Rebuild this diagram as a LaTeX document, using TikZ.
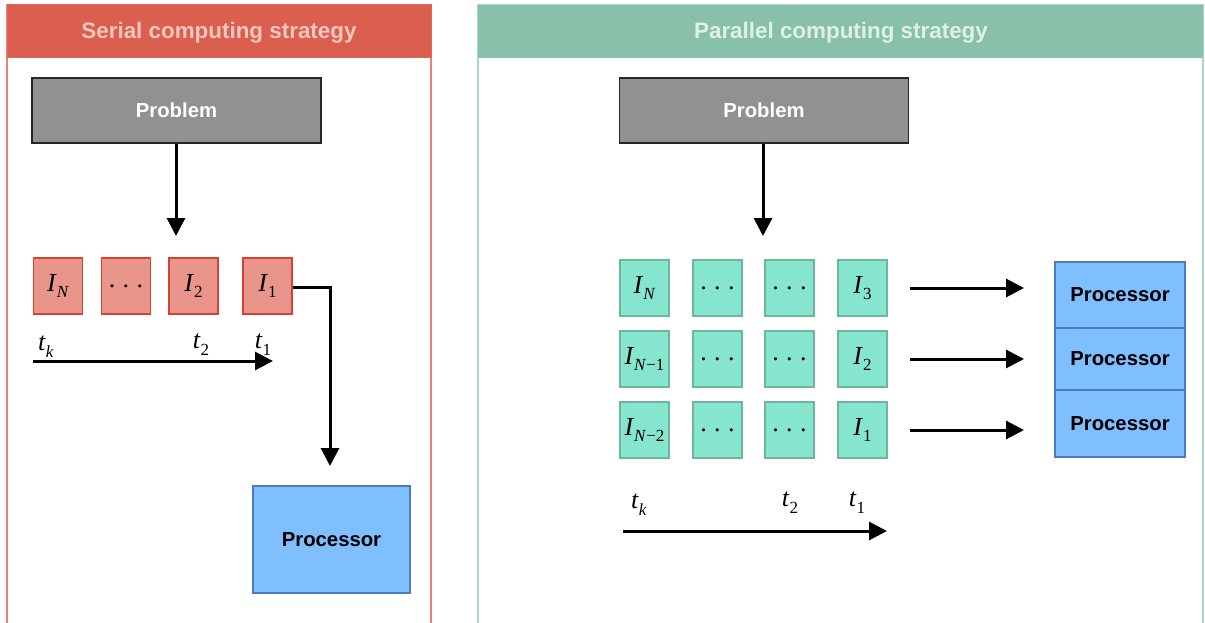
\documentclass[tikz,border=0pt]{standalone}
\usepackage{fontspec}
\setmainfont{Liberation Sans}
\newfontfamily\tms{Liberation Serif}
\usetikzlibrary{arrows.meta}
\newcommand{\lbl}[2]{{\tms\itshape #1\/}\raisebox{-0.26em}{\fontsize{17}{17}\selectfont\tms #2}}
\newcommand{\sdots}{{\tms .\hspace{0.28em}.\hspace{0.28em}.}}
\definecolor{redhead}{HTML}{DA5F4F}
\definecolor{redframe}{HTML}{E8837A}
\definecolor{redtext}{HTML}{F6C6BF}
\definecolor{greenhead}{HTML}{88C0AA}
\definecolor{greenframe}{HTML}{A9D6C5}
\definecolor{greentext}{HTML}{DFF0E8}
\definecolor{probfill}{HTML}{919191}
\definecolor{redbox}{HTML}{EA958C}
\definecolor{redboxline}{HTML}{D8412F}
\definecolor{greenbox}{HTML}{86E5CE}
\definecolor{greenboxline}{HTML}{6DB59B}
\definecolor{procfill}{HTML}{80BFFF}
\definecolor{procline}{HTML}{4A7DC0}
\tikzset{
  headtext/.style={font=\fontsize{22.4}{26}\selectfont\bfseries},
  probbox/.style={draw=black!85, line width=1.5pt, fill=probfill, minimum width=289pt, minimum height=65pt, inner sep=0pt, font=\fontsize{20.3}{24}\selectfont\bfseries, text=white},
  redcell/.style={draw=redboxline, line width=1.3pt, fill=redbox, minimum width=49pt, minimum height=56pt, inner sep=0pt, font=\fontsize{26}{30}\selectfont},
  greencell/.style={draw=greenboxline, line width=1.5pt, fill=greenbox, minimum width=49pt, minimum height=56pt, inner sep=0pt, font=\fontsize{26}{30}\selectfont},
  procbox/.style={draw=procline, line width=2.5pt, fill=procfill, inner sep=0pt, font=\fontsize{20.3}{24}\selectfont\bfseries},
  conn/.style={line width=3pt, -{Triangle[length=18pt,width=18pt]}},
  tlabel/.style={font=\fontsize{26}{30}\selectfont, inner sep=0pt}
}
\begin{document}
\begin{tikzpicture}[x=1pt,y=-1pt]
\useasboundingbox (0,0) rectangle (1205,623);
% Serial panel
\draw[redframe, line width=1.2pt] (7,5) rectangle (431,640);
\fill[redhead] (7,5) rectangle (431,58);
\draw[redboxline!80, line width=1pt] (7,5) rectangle (431,58);
\node[headtext, text=redtext] (shead) at (219,33) {Serial computing strategy};
% Parallel panel
\draw[greenframe, line width=1.2pt] (478,5) rectangle (1203,640);
\fill[greenhead] (478,5) rectangle (1203,58);
\node[headtext, text=greentext] (phead) at (841,33) {Parallel computing strategy};

% Serial content
\node[probbox] (sprob) at (176.5,110.5) {Problem};
\node[redcell] (sN) at (58,286) {\lbl{I}{\textit{N}}};
\node[redcell] (sd) at (126,286) {\sdots};
\node[redcell] (s2) at (193.5,286) {\lbl{I}{2}};
\node[redcell] (s1) at (267.5,286) {\lbl{I}{1}};
\coordinate (sarr) at (176,236);
\draw[conn] (sprob.south -| sarr) -- (sarr);
\node[procbox, minimum width=157pt, minimum height=107pt] (sproc) at (331.5,539.5) {Processor};
\coordinate (sbend) at (330,287);
\coordinate (stip) at (330,466);
\draw[conn] (s1.east |- sbend) -- (sbend) -- (stip);
\node[tlabel] (stk) at (46,347) {\lbl{t}{\textit{k}}};
\node[tlabel] (st2) at (201,345) {\lbl{t}{2}};
\node[tlabel] (st1) at (263,345) {\lbl{t}{1}};
\coordinate (stA) at (33,361);
\coordinate (stB) at (273,361);
\draw[conn] (stA) -- (stB);

% Parallel content
\node[probbox] (pprob) at (764,110.5) {Problem};
\coordinate (parr) at (763,236);
\draw[conn] (pprob.south -| parr) -- (parr);
\node[greencell] (a1) at (644.5,288) {\lbl{I}{\textit{N}}};
\node[greencell] (a2) at (717.5,288) {\sdots};
\node[greencell] (a3) at (789.5,288) {\sdots};
\node[greencell] (a4) at (862.5,288) {\lbl{I}{3}};
\node[greencell] (b1) at (644.5,359) {\lbl{I}{\textit{N}−1}};
\node[greencell] (b2) at (717.5,359) {\sdots};
\node[greencell] (b3) at (789.5,359) {\sdots};
\node[greencell] (b4) at (862.5,359) {\lbl{I}{2}};
\node[greencell] (c1) at (644.5,430) {\lbl{I}{\textit{N}−2}};
\node[greencell] (c2) at (717.5,430) {\sdots};
\node[greencell] (c3) at (789.5,430) {\sdots};
\node[greencell] (c4) at (862.5,430) {\lbl{I}{1}};
\node[procbox, minimum width=130pt, minimum height=66pt] (p1) at (1120,295) {Processor};
\node[procbox, minimum width=130pt, minimum height=62pt] (p2) at (1120,359) {Processor};
\node[procbox, minimum width=130pt, minimum height=67pt] (p3) at (1120,423.5) {Processor};
\coordinate (r1s) at (910,288); \coordinate (r1e) at (1024,288);
\coordinate (r2s) at (910,359); \coordinate (r2e) at (1024,359);
\coordinate (r3s) at (910,430); \coordinate (r3e) at (1024,430);
\draw[conn] (r1s) -- (r1e);
\draw[conn] (r2s) -- (r2e);
\draw[conn] (r3s) -- (r3e);
\node[tlabel] (ptk) at (639,505) {\lbl{t}{\textit{k}}};
\node[tlabel] (pt2) at (790,503) {\lbl{t}{2}};
\node[tlabel] (pt1) at (857,503) {\lbl{t}{1}};
\coordinate (ptA) at (623,531);
\coordinate (ptB) at (887,531);
\draw[conn] (ptA) -- (ptB);
\end{tikzpicture}
\end{document}
